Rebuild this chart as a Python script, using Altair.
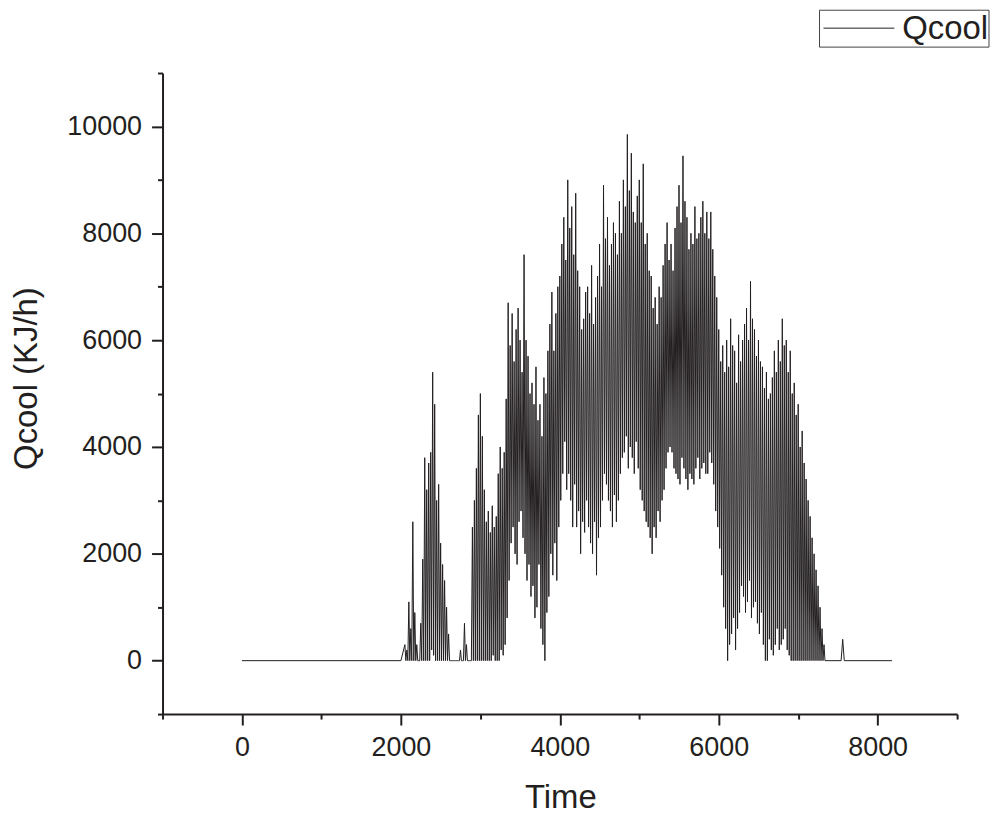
import altair as alt
import pandas as pd

# ---- data (hourly cooling load, two daily cycles per 50 h) ----
START = 2050
STEP = 50
HI = [300, 1100, 2600, 300, 700, 3800, 3700, 5400, 3000, 2200,
      1500, 500, 0, 0, 200, 700, 0, 2500, 3600, 5000,
      3200, 2800, 2900, 2700, 4000, 3900, 6700, 6500, 6200, 6000,
      7600, 5700, 5200, 5500, 4800, 5300, 5800, 6900, 6500, 7200,
      8300, 9000, 8500, 8750, 7000, 6400, 7000, 7400, 6800, 7800,
      8900, 8300, 7800, 8000, 8600, 9000, 9850, 9500, 8200, 9000,
      9300, 8000, 7200, 6800, 7000, 7400, 8200, 7800, 8100, 8900,
      9450, 8300, 8000, 8500, 8000, 8600, 8400, 8400, 7200, 6200,
      5900, 6000, 6400, 5800, 6100, 6000, 6600, 7100, 6200, 6000,
      5500, 5400, 5000, 5800, 6000, 6400, 6000, 5800, 5200, 4800,
      4300, 3400, 2700, 2000, 1400, 600]
LO = [0, 0, 0, 0, 0, 0, 0, 100, 0, 0,
      0, 0, 0, 0, 0, 0, 0, 0, 0, 0,
      0, 0, 100, 0, 200, 300, 1500, 2500, 1800, 2800,
      2000, 1800, 1400, 1000, 600, 0, 1200, 1600, 1500, 3000,
      4100, 3500, 2500, 2500, 2000, 2400, 2500, 2000, 1600, 2500,
      3500, 3000, 2500, 2600, 3500, 3900, 3600, 3800, 4100, 3200,
      2800, 2500, 2000, 2300, 2600, 3200, 3900, 3900, 3500, 3300,
      3600, 3200, 3400, 3600, 3400, 3700, 3500, 3700, 2800, 2100,
      1000, 0, 500, 200, 900, 1200, 1100, 800, 1100, 500,
      300, 0, 200, 300, 200, 400, 200, 0, 0, 0,
      0, 0, 0, 0, 0, 0]
HI2 = [200, 600, 900, 0, 1900, 3200, 3900, 4800, 3300, 1800,
       1000, 0, 0, 0, 0, 300, 0, 3000, 4600, 4200,
       2600, 2400, 2500, 3500, 3600, 4900, 5900, 5600, 6600, 5400,
       6000, 5000, 4800, 4500, 4200, 5000, 6300, 5800, 7000, 7800,
       7500, 8100, 7600, 7300, 6200, 6900, 6500, 6300, 7200, 7000,
       7900, 7400, 8200, 7600, 8000, 8500, 8800, 8400, 8700, 8200,
       7800, 7300, 6600, 6300, 6800, 7800, 7500, 7300, 8500, 8200,
       8600, 7700, 7800, 7900, 8300, 8000, 7900, 7700, 6800, 5600,
       5400, 5500, 5900, 5200, 5600, 6300, 6000, 6400, 5700, 5600,
       5100, 4900, 5300, 5400, 5600, 5900, 5400, 5000, 4600, 4000,
       3700, 3000, 2300, 1700, 1000, 300]
LO2 = [0, 0, 0, 0, 0, 0, 200, 0, 0, 0,
       0, 0, 0, 0, 0, 0, 0, 0, 0, 0,
       0, 0, 0, 0, 100, 800, 2200, 2000, 2600, 2300,
       1500, 1200, 800, 1800, 300, 900, 2000, 2200, 2500, 3500,
       3200, 3000, 3300, 2800, 2600, 3000, 2200, 2600, 2300, 3000,
       3300, 2800, 3100, 3000, 3800, 4200, 4000, 3500, 3600, 3000,
       2600, 2300, 2500, 2800, 3000, 3600, 4000, 3600, 3400, 3800,
       3400, 3500, 3300, 3800, 3600, 3500, 3900, 3300, 2500, 1600,
       600, 300, 800, 600, 1400, 900, 1500, 1000, 700, 900,
       0, 400, 100, 600, 300, 600, 100, 0, 0, 0,
       0, 0, 0, 0, 0, 0]
HEAD_T = [0, 2000]
HEAD_V = [0, 0]
TAIL_T = [7350, 7540, 7560, 7580, 8180]
TAIL_V = [0, 0, 400, 0, 0]
LEGEND_LABEL = "Qcool"

rows = list(zip(HEAD_T, HEAD_V))
for i, (h, l, h2, l2) in enumerate(zip(HI, LO, HI2, LO2)):
    t = START + i * STEP
    rows += [(t, h), (t + 12, l), (t + 25, h2), (t + 37, l2)]
rows += list(zip(TAIL_T, TAIL_V))
df = pd.DataFrame(rows, columns=["t", "q"])
df["order"] = range(len(df))

INK = "#231f20"
FONT = "Liberation Sans"

x_axis = alt.Axis(
    values=list(range(-1000, 9001, 1000)),
    labelExpr="datum.value % 2000 == 0 ? format(datum.value, 'd') : ''",
    tickSize={"condition": {"test": "datum.value % 2000 == 0", "value": 11}, "value": 5},
    grid=False, domainColor=INK, domainWidth=2, tickColor=INK, tickWidth=2,
    labelFont=FONT, labelFontSize=27, labelColor=INK, labelPadding=10,
    labelOverlap=False, labelFlush=False,
    title="Time", titleFont=FONT, titleFontSize=33, titleFontWeight="normal",
    titleColor=INK, titleX=399, titleY=94, titleAlign="center",
    titleBaseline="alphabetic",
)
y_axis = alt.Axis(
    values=list(range(-1000, 11001, 1000)),
    labelExpr="datum.value % 2000 == 0 ? format(datum.value, 'd') : ''",
    tickSize={"condition": {"test": "datum.value % 2000 == 0", "value": 11}, "value": 5},
    grid=False, domainColor=INK, domainWidth=2, tickColor=INK, tickWidth=2,
    labelFont=FONT, labelFontSize=27, labelColor=INK, labelPadding=10,
    labelOverlap=False, labelFlush=False,
    title="Qcool (KJ/h)", titleFont=FONT, titleFontSize=33, titleFontWeight="normal",
    titleColor=INK, titleX=-136, titleY=306, titleAngle=270, titleAlign="center",
    titleBaseline="middle",
)

line = alt.Chart(df).mark_line(color=INK, strokeWidth=1).encode(
    x=alt.X("t:Q", scale=alt.Scale(domain=[-1000, 9000], nice=False, zero=False), axis=x_axis),
    y=alt.Y("q:Q", scale=alt.Scale(domain=[-1000, 11000], nice=False, zero=False), axis=y_axis),
    order="order:Q",
)

one = pd.DataFrame({"a": [0]})
box = alt.Chart(one).mark_rect(fill="white", stroke="#444444", strokeWidth=1).encode(
    x=alt.value(659), x2=alt.value(829), y=alt.value(-63), y2=alt.value(-26)
)
sample = alt.Chart(one).mark_rule(color=INK, strokeWidth=1).encode(
    x=alt.value(663), x2=alt.value(734), y=alt.value(-45)
)
label = alt.Chart(one).mark_text(
    text=LEGEND_LABEL, align="left", baseline="middle", fontSize=33, font=FONT, color=INK
).encode(x=alt.value(742), y=alt.value(-44))

chart = alt.layer(line, box, sample, label).properties(
    width=797, height=643,
    autosize=alt.AutoSizeParams(type="none"),
    padding={"left": 155, "top": 64, "right": 36, "bottom": 100},
    background="white",
).configure_view(strokeWidth=0)

chart.save("out.html", embed_options={"renderer": "svg", "actions": False})
